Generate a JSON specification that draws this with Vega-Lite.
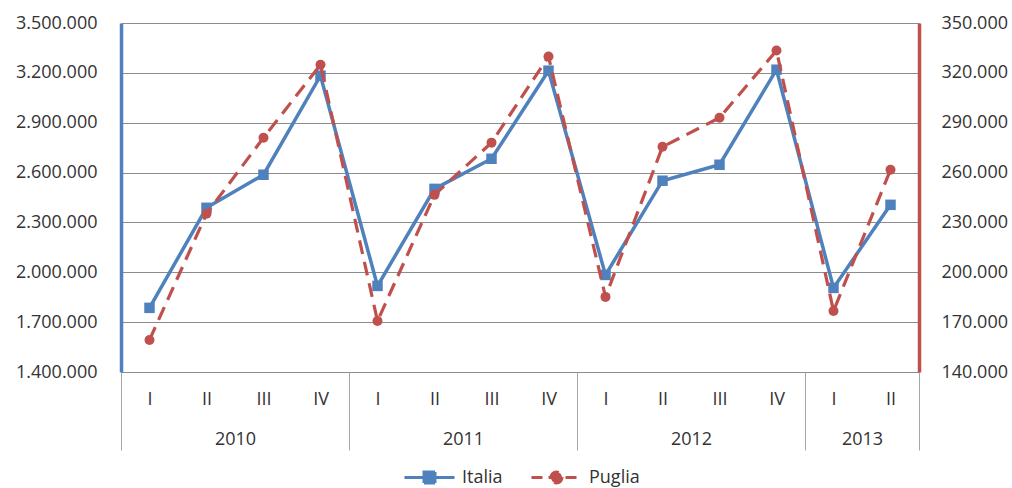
{
  "$schema": "https://vega.github.io/schema/vega-lite/v6.json",
  "width": 798,
  "height": 349,
  "autosize": {"type": "none"},
  "padding": {"left": 121, "top": 23, "right": 93, "bottom": 116},
  "background": "white",
  "config": {
    "locale": {"number": {"decimal": ",", "thousands": ".", "grouping": [3], "currency": ["€", ""]}},
    "font": "Open Sans",
    "view": {"stroke": null},
    "axis": {"labelFont": "Open Sans", "labelFontSize": 18, "labelColor": "#333333", "labelFlush": false}
  },
  "data": {
    "values": [
      {"n": 1, "year": 2010, "quarter": "I", "italia": 1786000, "puglia": 159300},
      {"n": 2, "year": 2010, "quarter": "II", "italia": 2388000, "puglia": 235200},
      {"n": 3, "year": 2010, "quarter": "III", "italia": 2587000, "puglia": 281000},
      {"n": 4, "year": 2010, "quarter": "IV", "italia": 3183000, "puglia": 324900},
      {"n": 5, "year": 2011, "quarter": "I", "italia": 1918000, "puglia": 170700},
      {"n": 6, "year": 2011, "quarter": "II", "italia": 2502000, "puglia": 246600},
      {"n": 7, "year": 2011, "quarter": "III", "italia": 2683000, "puglia": 278000},
      {"n": 8, "year": 2011, "quarter": "IV", "italia": 3213000, "puglia": 329800},
      {"n": 9, "year": 2012, "quarter": "I", "italia": 1984000, "puglia": 185200},
      {"n": 10, "year": 2012, "quarter": "II", "italia": 2551000, "puglia": 275500},
      {"n": 11, "year": 2012, "quarter": "III", "italia": 2647000, "puglia": 293000},
      {"n": 12, "year": 2012, "quarter": "IV", "italia": 3219000, "puglia": 333400},
      {"n": 13, "year": 2013, "quarter": "I", "italia": 1906000, "puglia": 176700},
      {"n": 14, "year": 2013, "quarter": "II", "italia": 2406000, "puglia": 261700}
    ]
  },
  "layer": [
    {
      "mark": {"type": "line", "strokeWidth": 3.5},
      "encoding": {
        "x": {
          "field": "n", "type": "quantitative",
          "scale": {"domain": [0.5, 14.5], "nice": false, "zero": false},
          "axis": {
            "orient": "bottom", "title": null,
            "values": [1, 2, 3, 4, 5, 6, 7, 8, 9, 10, 11, 12, 13, 14],
            "labelExpr": "['I','II','III','IV'][(datum.value - 1) % 4]",
            "ticks": false, "grid": false,
            "domainColor": "#8c8c8c", "domainWidth": 1,
            "labelPadding": 18, "labelBaseline": "top"
          }
        },
        "y": {
          "field": "italia", "type": "quantitative",
          "scale": {"domain": [1400000, 3500000], "nice": false, "zero": false},
          "axis": {
            "orient": "left", "title": null,
            "values": [1400000, 1700000, 2000000, 2300000, 2600000, 2900000, 3200000, 3500000],
            "format": ",d",
            "grid": true, "gridColor": "#8c8c8c", "gridWidth": 1,
            "ticks": false,
            "domainColor": "#4F81BD", "domainWidth": 3.5,
            "labelPadding": 24
          }
        },
        "color": {
          "datum": "Italia", "type": "nominal",
          "scale": {"domain": ["Italia", "Puglia"], "range": ["#4F81BD", "#C0504D"]},
          "legend": {
            "orient": "none", "legendX": 282, "legendY": 428,
            "direction": "horizontal", "title": null,
            "symbolSize": 2500, "symbolStrokeWidth": 3,
            "labelFont": "Open Sans", "labelFontSize": 18, "labelColor": "#333333",
            "labelOffset": 6, "columnPadding": 22, "padding": 0,
            "encode": {
              "symbols": {
                "update": {
                  "shape": {"signal": "datum.value === 'Italia' ? 'M-1,0H1M-0.22,-0.22H0.22V0.22H-0.22Z' : 'M-1,0H1M0.22,0A0.22,0.22,0,1,1,-0.22,0A0.22,0.22,0,1,1,0.22,0Z'"},
                  "fill": {"signal": "datum.value === 'Italia' ? '#4F81BD' : '#C0504D'"},
                  "stroke": {"signal": "datum.value === 'Italia' ? '#4F81BD' : '#C0504D'"},
                  "strokeDash": {"signal": "datum.value === 'Italia' ? [1, 0] : [11, 6]"},
                  "opacity": {"value": 1},
                  "fillOpacity": {"value": 1},
                  "strokeOpacity": {"value": 1}
                }
              }
            }
          }
        }
      }
    },
    {
      "mark": {"type": "point", "shape": "square", "filled": true, "size": 110, "opacity": 1},
      "encoding": {
        "x": {
          "field": "n", "type": "quantitative",
          "scale": {"domain": [0.5, 14.5], "nice": false, "zero": false},
          "axis": {
            "orient": "bottom", "title": null,
            "values": [2.5, 6.5, 10.5, 13.5],
            "labelExpr": "2010 + floor((datum.value - 0.5) / 4)",
            "ticks": false, "grid": false, "domain": false,
            "labelPadding": 58, "labelBaseline": "top"
          }
        },
        "y": {
          "field": "italia", "type": "quantitative",
          "scale": {"domain": [1400000, 3500000], "nice": false, "zero": false},
          "axis": null
        },
        "color": {"datum": "Italia", "type": "nominal"}
      }
    },
    {
      "mark": {"type": "line", "strokeWidth": 3.2, "strokeDash": [14, 8]},
      "encoding": {
        "x": {
          "field": "n", "type": "quantitative",
          "scale": {"domain": [0.5, 14.5], "nice": false, "zero": false},
          "axis": {
            "orient": "bottom", "title": null,
            "values": [0.5, 4.5, 8.5, 12.5, 14.5],
            "labels": false, "grid": false, "domain": false,
            "ticks": true, "tickSize": 78, "tickColor": "#a6a6a6", "tickWidth": 1
          }
        },
        "y": {
          "field": "puglia", "type": "quantitative",
          "scale": {"domain": [140000, 350000], "nice": false, "zero": false},
          "axis": {
            "orient": "right", "title": null,
            "values": [140000, 170000, 200000, 230000, 260000, 290000, 320000, 350000],
            "format": ",d",
            "grid": false, "ticks": false,
            "domainColor": "#C0504D", "domainWidth": 3.5,
            "labelPadding": 22
          }
        },
        "color": {"datum": "Puglia", "type": "nominal"}
      }
    },
    {
      "mark": {"type": "point", "shape": "circle", "filled": true, "size": 100, "opacity": 1},
      "encoding": {
        "x": {
          "field": "n", "type": "quantitative",
          "scale": {"domain": [0.5, 14.5], "nice": false, "zero": false},
          "axis": null
        },
        "y": {
          "field": "puglia", "type": "quantitative",
          "scale": {"domain": [140000, 350000], "nice": false, "zero": false},
          "axis": null
        },
        "color": {"datum": "Puglia", "type": "nominal"}
      }
    }
  ],
  "resolve": {"scale": {"y": "independent"}, "axis": {"x": "independent"}}
}
